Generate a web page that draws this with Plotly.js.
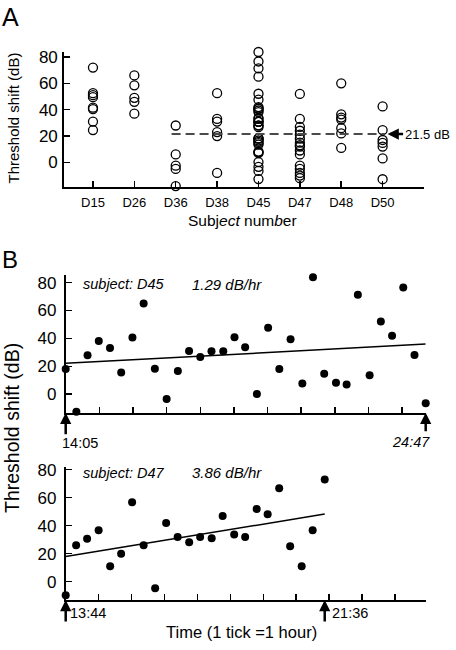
<!DOCTYPE html>
<html>
<head>
<meta charset="utf-8">
<script src="https://cdn.plot.ly/plotly-3.0.1.min.js"></script>
<style>html,body{margin:0;padding:0;background:#fff;}#chart{width:456px;height:650px;}</style>
</head>
<body>
<div id="chart"></div>
<script>
// ---------- Panel A data ----------
const subjects = ['D15','D26','D36','D38','D45','D47','D48','D50'];
const shiftD15 = [72, 52.5, 51, 49.5, 41.5, 40.5, 31, 24.5];
const shiftD26 = [66, 58.5, 49, 46, 37];
const shiftD36 = [28, 6, -2.5, -5, -18];
const shiftD38 = [52.5, 33, 31, 23, 20, -8];
const shiftD47A = [52, 33, 27, 24, 21, 18, 15, 13, 12, 9, 6, -2.5, -5, -8, -10, -12];
const shiftD48 = [60, 36.5, 34, 32.5, 26, 22, 11];
const shiftD50 = [42.5, 24.5, 17, 14.8, 12, 3, -12.8];
const meanShift = 21.5;

// ---------- Panel B data ----------
const d45Times = ['14:05','14:24','14:44','15:04','15:24','15:44','16:04','16:24','16:44','17:05','17:25','17:45','18:05','18:25','18:46','19:06','19:25','19:46','20:06','20:26','20:46','21:07','21:26','21:46','22:07','22:26','22:46','23:07','23:27','23:47','24:07','24:27','24:47'];
const d45Shift = [18.0, -12.7, 27.9, 38.2, 33.1, 15.6, 40.6, 65.1, 18.2, -3.4, 16.6, 31.0, 26.7, 30.8, 30.8, 40.9, 33.6, 0.2, 47.6, 18.0, 39.4, 7.7, 83.8, 14.6, 8.2, 7.0, 71.4, 13.5, 52.1, 42.0, 76.6, 28.1, -6.5];
const d47Times = ['13:44','14:03','14:23','14:44','15:05','15:25','15:45','16:06','16:27','16:47','17:08','17:29','17:49','18:10','18:30','18:51','19:11','19:32','19:52','20:13','20:33','20:54','21:14','21:36'];
const d47Shift = [-9.7, 26.0, 30.7, 36.7, 11.0, 20.0, 56.7, 26.0, -4.7, 41.9, 31.9, 28.1, 31.9, 31.0, 46.9, 33.6, 31.9, 51.9, 48.1, 66.7, 25.3, 11.0, 36.7, 72.9];
const fitIntercept = [22.1, 17.9];   // dB at first sample
const fitSlope = [1.29, 3.86];       // dB/hr
const axisEnd = ['24:47', '24:40'];

const yTicks = [0, 20, 40, 60, 80];

// ---------- helpers ----------
const W = 456, H = 650;
const px = v => v / W;
const py = v => 1 - v / H;
const hrs = s => { const p = s.split(':').map(Number); return p[0] + p[1] / 60; };
const FONT = 'Liberation Sans, Arial, Helvetica, sans-serif';

const colA = {D15: shiftD15, D26: shiftD26, D36: shiftD36, D38: shiftD38, D45: d45Shift, D47: shiftD47A, D48: shiftD48, D50: shiftD50};
const ax = [], ay = [];
subjects.forEach((s, i) => colA[s].forEach(v => { ax.push(i + 1); ay.push(v); }));

const t45 = d45Times.map(hrs), t47 = d47Times.map(hrs);
const fit = (t, b, m) => { const t0 = t[0], t1 = t[t.length - 1]; return {x: [t0, t1], y: [b, b + m * (t1 - t0)]}; };
const f45 = fit(t45, fitIntercept[0], fitSlope[0]);
const f47 = fit(t47, fitIntercept[1], fitSlope[1]);

const traces = [
  {x: ax, y: ay, xaxis: 'x', yaxis: 'y', mode: 'markers', type: 'scatter', cliponaxis: false,
   marker: {symbol: 'circle-open', size: 9, color: '#000', line: {width: 1.3, color: '#000'}}},
  {x: f45.x, y: f45.y, xaxis: 'x2', yaxis: 'y2', mode: 'lines', line: {color: '#000', width: 1.5}},
  {x: t45, y: d45Shift, xaxis: 'x2', yaxis: 'y2', mode: 'markers', cliponaxis: false,
   marker: {size: 8, color: '#000'}},
  {x: f47.x, y: f47.y, xaxis: 'x3', yaxis: 'y3', mode: 'lines', line: {color: '#000', width: 1.5}},
  {x: t47, y: d47Shift, xaxis: 'x3', yaxis: 'y3', mode: 'markers', cliponaxis: false,
   marker: {size: 8, color: '#000'}}
];

const baseAxis = {showline: true, linecolor: '#000', linewidth: 1.8, showgrid: false, zeroline: false,
  ticks: 'inside', ticklen: 6, tickwidth: 1.5, tickcolor: '#000', fixedrange: true};
const hourTicks = (t0, tEnd) => { const v = []; for (let k = 1; t0 + k <= tEnd + 1e-6; k++) v.push(t0 + k); return v; };

const layout = {
  width: W, height: H, margin: {l: 0, r: 0, t: 0, b: 0}, showlegend: false,
  paper_bgcolor: '#fff', plot_bgcolor: 'rgba(0,0,0,0)',
  font: {family: FONT, color: '#000'},
  xaxis: Object.assign({}, baseAxis, {domain: [px(64), px(424)], range: [0.3, 9.0], anchor: 'y',
    tickmode: 'array', tickvals: [1,2,3,4,5,6,7,8,9], ticktext: subjects.concat(['']),
    tickfont: {size: 13, family: FONT}, ticklabelstandoff: 3}),
  yaxis: Object.assign({}, baseAxis, {domain: [py(187), py(52)], range: [-18.7, 83.8], anchor: 'x',
    tickmode: 'array', tickvals: yTicks, tickfont: {size: 17, family: FONT}, ticklabelstandoff: 1}),
  xaxis2: Object.assign({}, baseAxis, {domain: [px(65.7), px(425.7)], range: [t45[0], hrs(axisEnd[0])], anchor: 'y2',
    tickmode: 'array', tickvals: hourTicks(t45[0], hrs(axisEnd[0])), showticklabels: false}),
  yaxis2: Object.assign({}, baseAxis, {domain: [py(412.7), py(275)], range: [-13.3, 85.5], anchor: 'x2',
    tickmode: 'array', tickvals: yTicks, tickfont: {size: 17, family: FONT}, ticklabelstandoff: 4}),
  xaxis3: Object.assign({}, baseAxis, {domain: [px(65.7), px(425.7)], range: [t47[0], hrs(axisEnd[1])], anchor: 'y3',
    tickmode: 'array', tickvals: hourTicks(t47[0], hrs(axisEnd[1])), showticklabels: false}),
  yaxis3: Object.assign({}, baseAxis, {domain: [py(600), py(466.7)], range: [-13.1, 82.1], anchor: 'x3',
    tickmode: 'array', tickvals: yTicks, tickfont: {size: 17, family: FONT}, ticklabelstandoff: 4}),
  shapes: [
    {type: 'line', xref: 'x', yref: 'y', x0: 2.9, x1: 8.05, y0: meanShift, y1: meanShift,
     line: {color: '#4a4a4a', width: 2, dash: '9px,5px'}}
  ],
  annotations: []
};

const txt = (text, x, y, size, opts) => Object.assign({text: text, xref: 'paper', yref: 'paper', x: px(x), y: py(y),
  showarrow: false, font: {size: size, family: FONT, color: '#000'}, xanchor: 'center', yanchor: 'middle'}, opts || {});
const arrow = (xref, yref, x, y, axp, ayp) => ({text: '', xref: xref, yref: yref, x: x, y: y, ax: axp, ay: ayp,
  showarrow: true, arrowhead: 2, arrowsize: 0.9, arrowwidth: 2.5, arrowcolor: '#000', standoff: 0});

layout.annotations.push(
  txt('A', 10, 17, 25),
  txt('B', 10, 259, 24),
  txt('Threshold shift (dB)', 12.5, 118, 15, {textangle: -90}),
  txt('Subj<i>ect</i> num<i>b</i>er', 242, 220, 15.5),
  txt(meanShift + ' dB', 452, 134.5, 13, {xanchor: 'right'}),
  arrow('x', 'y', 8.12, meanShift, 17, 0),
  txt('Threshold shift (dB)', 12, 428, 19.5, {textangle: -90}),
  txt('<i>subject: D45</i>', 81, 284, 14.5, {xanchor: 'left'}),
  txt('<i>' + fitSlope[0].toFixed(2) + ' dB/hr</i>', 190, 284, 15, {xanchor: 'left'}),
  txt('<i>subject: D47</i>', 81, 473, 14.5, {xanchor: 'left'}),
  txt('<i>' + fitSlope[1].toFixed(2) + ' dB/hr</i>', 190, 473, 15, {xanchor: 'left'}),
  arrow('x2', 'y2', t45[0], -13.3, 0, 23),
  arrow('x2', 'y2', hrs(axisEnd[0]), -13.3, 0, 20),
  txt(d45Times[0], 80, 443, 14.5),
  txt('<i>' + axisEnd[0] + '</i>', 411, 442, 14.5),
  arrow('x3', 'y3', t47[0], -13.1, 0, 23),
  arrow('x3', 'y3', t47[t47.length - 1], -13.1, 0, 23),
  txt(d47Times[0], 68, 613, 14.5, {xanchor: 'left'}),
  txt(d47Times[d47Times.length - 1], 330, 613, 14.5, {xanchor: 'left'}),
  txt('Time (1 tick =1 hour)', 241, 632, 16.5)
);

Plotly.newPlot('chart', traces, layout, {staticPlot: true, displayModeBar: false});
</script>
</body>
</html>
